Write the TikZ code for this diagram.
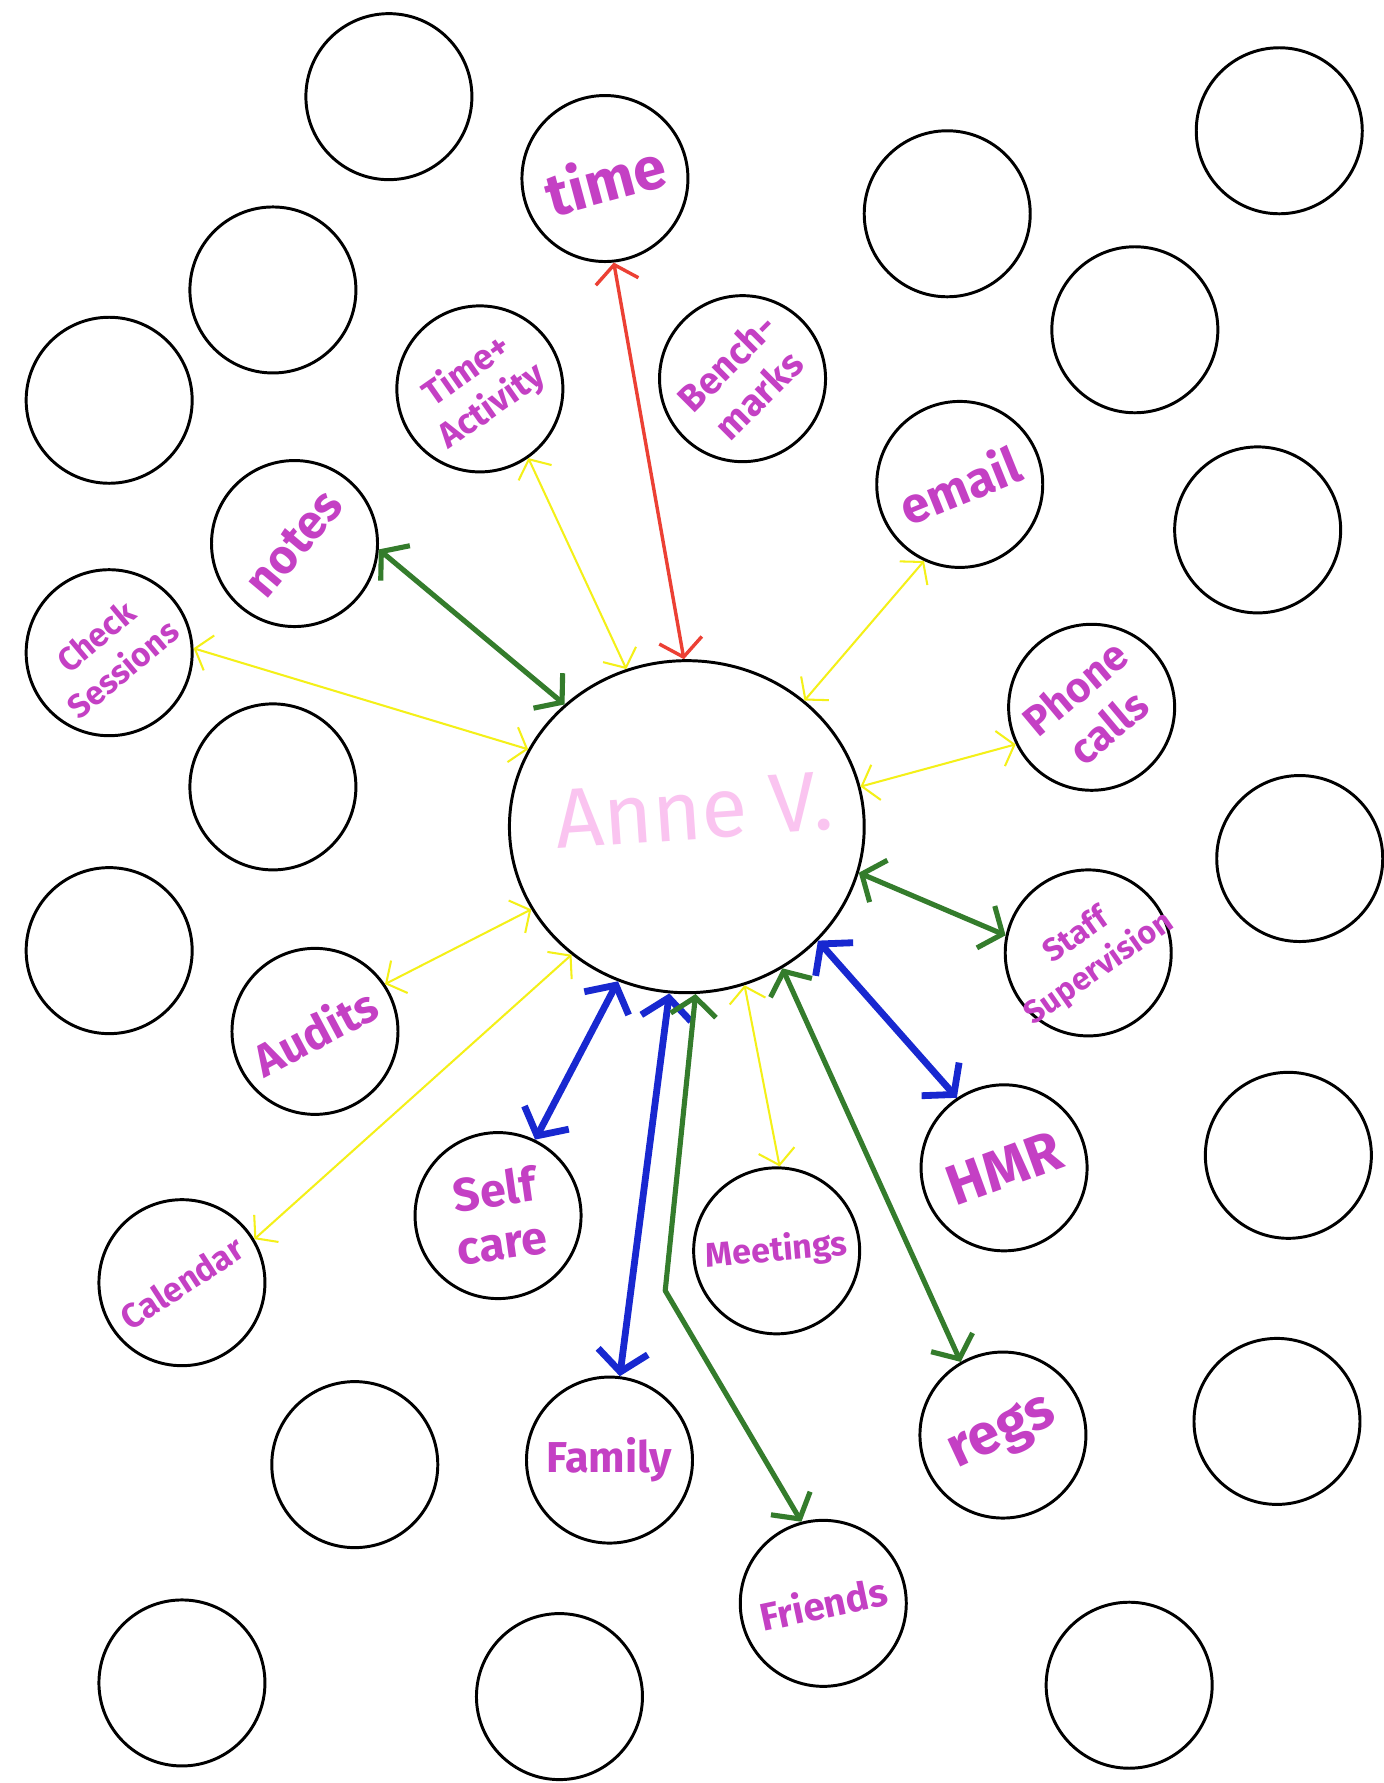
\documentclass[tikz,border=0pt]{standalone}
\usepackage{fontspec}
\setmainfont{Fira Sans}
\usetikzlibrary{arrows.meta,shapes.geometric}
\definecolor{mag}{RGB}{196,64,196}
\definecolor{annepink}{RGB}{250,196,240}
\definecolor{penred}{RGB}{236,64,52}
\definecolor{pengreen}{RGB}{52,124,44}
\definecolor{penblue}{RGB}{24,40,208}
\definecolor{penyellow}{RGB}{244,240,24}

\begin{document}
\begin{tikzpicture}[
  x=1pt, y=-1pt,
  bub/.style={draw, circle, line width=2.6pt, minimum size=146pt, inner sep=0pt},
  hub/.style={draw, ellipse, line width=2.6pt, minimum width=312pt, minimum height=292pt, inner sep=0pt},
  annetxt/.style={text=annepink, font=\fontsize{74}{80}\selectfont, inner sep=0pt, yshift=14pt, xshift=6pt, rotate=4},
  lab/.style 2 args={text=mag, font=\bfseries\fontsize{#1}{#2}\selectfont, align=center, inner sep=0pt},
  yarr/.style={draw=penyellow, line width=1.8pt, <->, line cap=round, >={Straight Barb[length=13pt,width=32pt]}},
  rarr/.style={draw=penred, line width=3pt, <->, line cap=round, >={Straight Barb[length=15pt,width=38pt]}},
  garr/.style={draw=pengreen, line width=4.5pt, <->, line cap=round, line join=round, >={Straight Barb[length=16pt,width=40pt]}},
  barr/.style={draw=penblue, line width=6pt, <->, line cap=round, >={Straight Barb[length=18pt,width=44pt]}}
]
\useasboundingbox[fill=white] (0,0) rectangle (1217,1568);

% empty bubbles
\node[bub] (blank1) at (342,85) {};
\node[bub] (blank2) at (240,255) {};
\node[bub] (blank3) at (96,352) {};
\node[bub] (blank4) at (833,188) {};
\node[bub] (blank5) at (1125,115) {};
\node[bub] (blank6) at (998,290) {};
\node[bub] (blank7) at (1106,466) {};
\node[bub] (blank8) at (240,692) {};
\node[bub] (blank9) at (96,836) {};
\node[bub] (blank10) at (1143,755) {};
\node[bub] (blank11) at (1133,1016) {};
\node[bub] (blank12) at (1123,1250) {};
\node[bub] (blank13) at (312,1288) {};
\node[bub] (blank14) at (160,1480) {};
\node[bub] (blank15) at (492,1492) {};
\node[bub] (blank16) at (993,1482) {};

% centre
\node[hub, label={[annetxt]center:Anne V.}] (anne) at (604,727) {};

% named bubbles
\node[bub, label={[lab={52}{56}, rotate=15]center:time}] (time) at (532,157) {};
\node[bub, label={[lab={31}{38}, rotate=35]center:{Time+\\Activity}}] (timeact) at (422,342) {};
\node[bub, label={[lab={33}{40}, rotate=45]center:{Bench-\\marks}}] (bench) at (653,333) {};
\node[bub, label={[lab={44}{48}, rotate=22]center:email}] (email) at (844,426) {};
\node[bub, label={[lab={42}{46}, rotate=50]center:notes}] (notes) at (259,478) {};
\node[bub, label={[lab={29}{37}, rotate=40]center:{Check\\Sessions}}] (check) at (96,574) {};
\node[bub, label={[lab={37}{45}, rotate=40]center:{Phone\\calls}}] (phone) at (960,622) {};
\node[bub, label={[lab={28}{35}, rotate=35]center:{Staff\\Supervision}}] (staff) at (957,838) {};
\node[bub, label={[lab={40}{44}, rotate=28]center:Audits}] (audits) at (277,907) {};
\node[bub, label={[lab={41}{47}, rotate=8]center:{Self\\care}}] (selfcare) at (438,1069) {};
\node[bub, label={[lab={30}{34}, rotate=5]center:Meetings}] (meetings) at (683,1100) {};
\node[bub, label={[lab={50}{54}, rotate=20]center:HMR}] (hmr) at (883,1027) {};
\node[bub, label={[lab={30}{34}, rotate=33]center:Calendar}] (calendar) at (160,1128) {};
\node[bub, label={[lab={38}{42}]center:Family}] (family) at (536,1284) {};
\node[bub, label={[lab={50}{54}, rotate=25]center:regs}] (regs) at (882,1262) {};
\node[bub, label={[lab={34}{38}, rotate=12]center:Friends}] (friends) at (724,1410) {};

\coordinate (fbend) at (585,1135);

% links
\draw[rarr] (anne.91) -- (time.-84);
\draw[yarr] (anne.111) -- (timeact.-55);
\draw[garr] (anne.135) -- (notes.-4);
\draw[yarr] (anne.154) -- (check.3);
\draw[yarr] (anne.47) -- (email.-115);
\draw[yarr] (anne.13) -- (phone.-154);
\draw[garr] (anne.-15) -- (staff.168);
\draw[yarr] (anne.-152) -- (audits.34);
\draw[yarr] (anne.-132) -- (calendar.31);
\draw[barr] (anne.-114) -- (selfcare.64);
\draw[barr] (anne.-96) -- (family.83);
\draw[garr] (anne.-87) -- (fbend) -- (friends.105);
\draw[yarr] (anne.-70) -- (meetings.88);
\draw[garr] (anne.-56) -- (regs.120);
\draw[barr] (anne.-41) -- (hmr.124);
\end{tikzpicture}
\end{document}
